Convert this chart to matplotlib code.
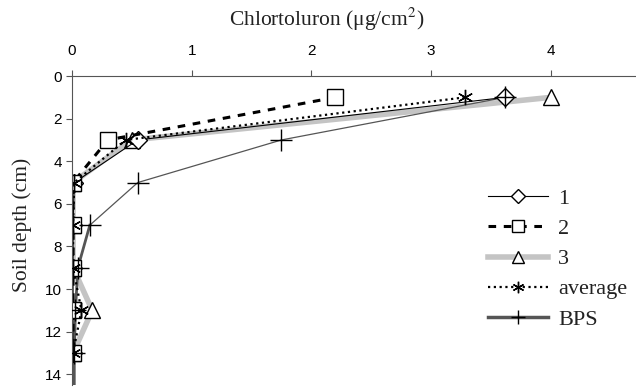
import numpy as np
import matplotlib
matplotlib.use('Agg')
import matplotlib.pyplot as plt

depth = [1, 3, 5, 7, 9, 11, 13]
s1 = [3.62, 0.55, 0.02, 0.01, 0.01, 0.01, 0.01]
s2 = [2.20, 0.30, 0.01, 0.01, 0.01, 0.01, 0.01]
s3 = [4.00, 0.50, 0.01, 0.01, 0.01, 0.17, 0.01]
avg = [3.28, 0.45, 0.02, 0.01, 0.01, 0.08, 0.01]
bps_depth = [1, 3, 5, 7, 9, 11, 13, 14.5]
bps = [3.62, 1.75, 0.55, 0.15, 0.05, 0.03, 0.02, 0.02]
xticks = [0, 1, 2, 3, 4]
yticks = [0, 2, 4, 6, 8, 10, 12, 14]

plt.rcParams['font.family'] = 'Liberation Sans'
plt.rcParams['mathtext.fontset'] = 'stix'
serif = 'Liberation Serif'

fig = plt.figure(figsize=(6.36, 3.9), dpi=100)
ax = fig.add_axes([0.113, 0.013, 0.887, 0.792])

mk = dict(markerfacecolor='white', markeredgecolor='black', markeredgewidth=1.0)

l3, = ax.plot(s3, depth, color='#c4c4c4', lw=4, marker='^', ms=11, label='3', **mk)
# BPS: thin upper part, heavier dark line lower down
ax.plot(bps[:4], bps_depth[:4], color='#555555', lw=0.9, zorder=2)
ax.plot(bps[3:], bps_depth[3:], color='#555555', lw=2.0, zorder=2)
ax.plot(bps[:-1], bps_depth[:-1], ls='none', marker='+', ms=16, mew=1.0, color='black', zorder=5)
lb, = ax.plot([], [], color='#555555', lw=2.5, marker='+', ms=14, mew=1.0, mec='black', label='BPS')
l1, = ax.plot(s1, depth, color='black', lw=0.8, marker='D', ms=9, label='1', **mk)
l2, = ax.plot(s2, depth, color='black', lw=2.2, ls=(0, (2.5, 2.5)), marker='s', ms=11, label='2', **mk)
la, = ax.plot(avg, depth, color='black', lw=1.6, ls=(0, (1, 1.6)), marker=(6, 2, 0), ms=11, label='average', **mk)

ax.set_xlim(0, 4.71)
ax.set_ylim(14.5, 0)
ax.xaxis.tick_top()
ax.set_xticks(xticks)
ax.set_yticks(yticks)
ax.tick_params(axis='both', labelsize=11, length=4, width=0.8, pad=3, color='#555555')
ax.tick_params(axis='x', pad=9)
for s in ['left', 'top']:
    ax.spines[s].set_color('#555555')
ax.spines['right'].set_visible(False)
ax.spines['bottom'].set_visible(False)

fig.text(0.514, 0.949, 'Chlortoluron (μg/cm$^{2}$)', ha='center', va='center',
         fontsize=15.5, family=serif, color='#222222')
fig.text(0.035, 0.423, 'Soil depth (cm)', rotation=90, ha='center', va='center',
         fontsize=15.5, family=serif, color='#222222')

leg = fig.legend(handles=[l1, l2, l3, la, lb], loc='upper left',
                 bbox_to_anchor=(0.75, 0.545), frameon=False,
                 prop={'family': serif, 'size': 16}, handlelength=2.7,
                 handletextpad=0.45, labelspacing=0.43, borderpad=0,
                 markerscale=0.75)
for t in leg.get_texts():
    t.set_color('#222222')

fig.savefig('out.png', dpi=100)
